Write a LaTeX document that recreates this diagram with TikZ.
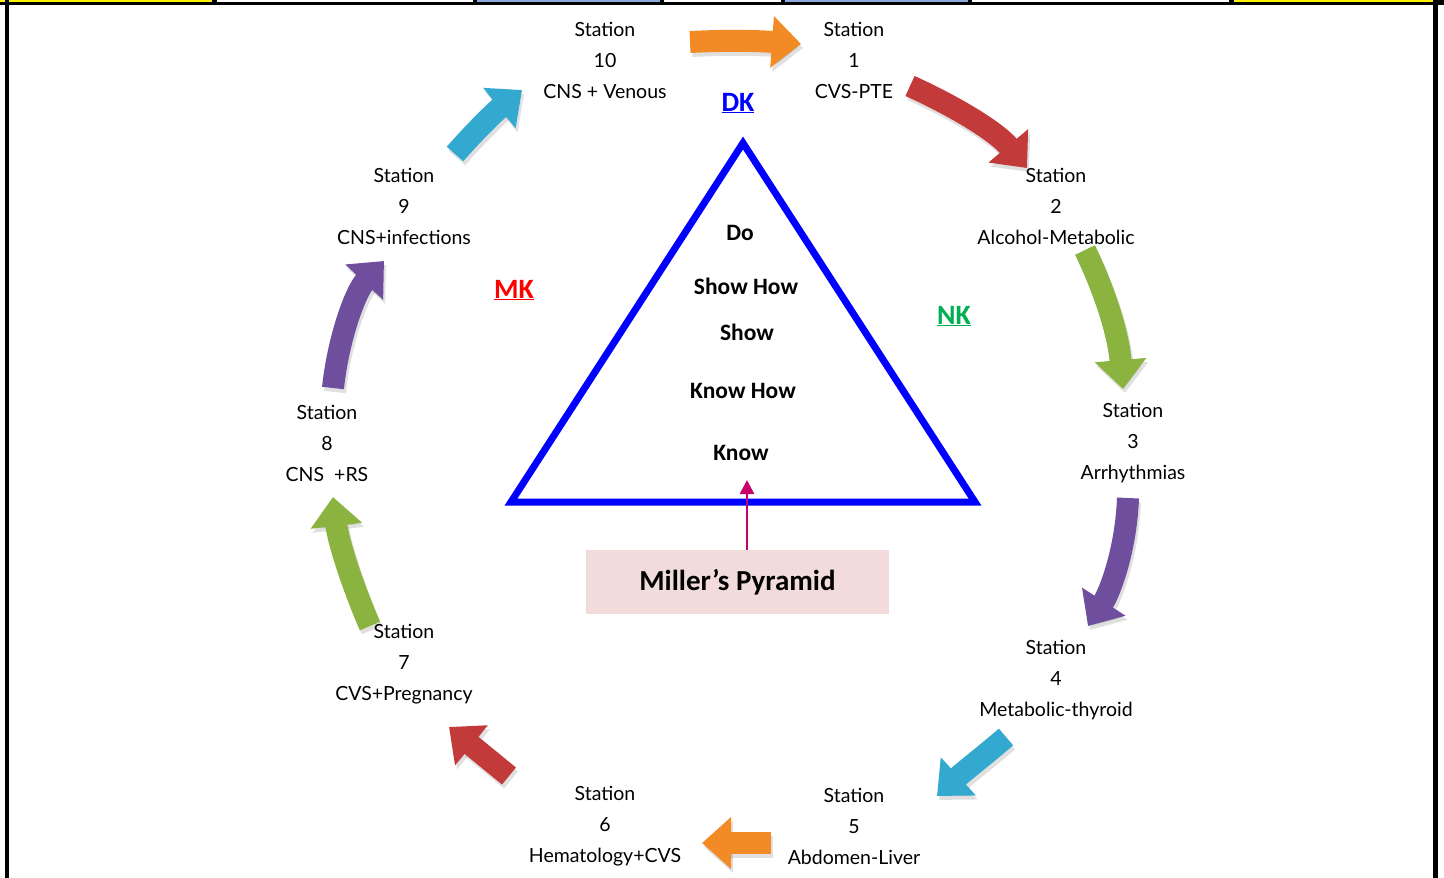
\documentclass[tikz,border=0pt]{standalone}
\usepackage{fontspec}
\setmainfont{Lato}
\newfontfamily\calibri{Carlito}
\usetikzlibrary{arrows.meta}
\definecolor{stripblue}{HTML}{8EA9DB}
\definecolor{aorange}{HTML}{F28A26}
\definecolor{ared}{HTML}{C23A3A}
\definecolor{agreen}{HTML}{8AB340}
\definecolor{apurple}{HTML}{6F4E9E}
\definecolor{acyan}{HTML}{33A9CF}
\definecolor{pinkbox}{HTML}{F2DCDB}
\definecolor{nkgreen}{HTML}{00B050}
\definecolor{pmag}{HTML}{C8006A}
\begin{document}
\begin{tikzpicture}[x=1pt,y=-1pt,
  station/.style={font=\fontsize{19.5}{31}\selectfont, align=center, inner sep=0pt},
  lvl/.style={font=\calibri\bfseries\fontsize{23.5}{26}\selectfont, inner sep=0pt},
  kl/.style={font=\calibri\bfseries\fontsize{28}{30}\selectfont, inner sep=0pt},
  arr/.style={line width=22pt, -{Triangle[length=29pt,width=50pt]}},
  shad/.style={arr, draw=black, draw opacity=0.12, fill opacity=0.12, transform canvas={xshift=2pt,yshift=-4pt}}
]
\useasboundingbox (0,0) rectangle (1444,878);
% frame
\fill[black] (0,0) rectangle (1444,5);
\fill[yellow] (0,0) rectangle (212,2);
\fill[white] (217,0) rectangle (473,2);
\fill[stripblue] (477,0) rectangle (660,2);
\fill[white] (664,0) rectangle (781,2);
\fill[stripblue] (785,0) rectangle (968,2);
\fill[white] (972,0) rectangle (1229,2);
\fill[yellow] (1234,0) rectangle (1438,2);
\fill[black] (5,0) rectangle (9,878);
\fill[black] (1433,0) rectangle (1438,878);

% stations
\node[station] (s10) at (605,60) {Station\\10\\CNS + Venous};
\node[station] (s1) at (854,60) {Station\\1\\CVS-PTE};
\node[station] (s2) at (1056,206) {Station\\2\\Alcohol-Metabolic};
\node[station] (s3) at (1133,443) {Station\\3\\Arrhythmias};
\node[station] (s4) at (1056,680) {Station\\4\\Metabolic-thyroid};
\node[station] (s5) at (854,826) {Station\\5\\Abdomen-Liver};
\node[station] (s6) at (605,826) {Station\\6\\Hematology+CVS};
\node[station] (s7) at (404,664) {Station\\7\\CVS+Pregnancy};
\node[station] (s8) at (327,443) {Station\\8\\CNS~ +RS};
\node[station] (s9) at (404,206) {Station\\9\\CNS+infections};

% arrow end points
\coordinate (a1s) at (690,42);  \coordinate (a1e) at (801,44);
\coordinate (a2s) at (910,86);  \coordinate (a2e) at (1027,168);
\coordinate (a3s) at (1085,250); \coordinate (a3e) at (1123,389);
\coordinate (a4s) at (1128,498); \coordinate (a4e) at (1088,626);
\coordinate (a5s) at (1006,737); \coordinate (a5e) at (937,796);
\coordinate (a6s) at (771,843); \coordinate (a6e) at (702,843);
\coordinate (a7s) at (509,776); \coordinate (a7e) at (449,727);
\coordinate (a8s) at (370,626); \coordinate (a8e) at (333,497);
\coordinate (a9s) at (333,388); \coordinate (a9e) at (384,261);
\coordinate (a10s) at (455,154); \coordinate (a10e) at (522,90);

% shadows
\draw[shad] (a1s) .. controls (730,40) and (760,41) .. (a1e);
\draw[shad] (a2s) .. controls (950,104) and (995,130) .. (a2e);
\draw[shad] (a3s) .. controls (1102,285) and (1118,330) .. (a3e);
\draw[shad] (a4s) .. controls (1126,550) and (1110,592) .. (a4e);
\draw[shad] (a5s) .. controls (985,755) and (962,773) .. (a5e);
\draw[shad] (a6s) -- (a6e);
\draw[shad] (a7s) -- (a7e);
\draw[shad] (a8s) .. controls (352,585) and (338,540) .. (a8e);
\draw[shad] (a9s) .. controls (338,340) and (355,292) .. (a9e);
\draw[shad] (a10s) .. controls (475,131) and (497,110) .. (a10e);

% arrows
\draw[arr, aorange] (a1s) .. controls (730,40) and (760,41) .. (a1e);
\draw[arr, ared] (a2s) .. controls (950,104) and (995,130) .. (a2e);
\draw[arr, agreen] (a3s) .. controls (1102,285) and (1118,330) .. (a3e);
\draw[arr, apurple] (a4s) .. controls (1126,550) and (1110,592) .. (a4e);
\draw[arr, acyan] (a5s) .. controls (985,755) and (962,773) .. (a5e);
\draw[arr, aorange] (a6s) -- (a6e);
\draw[arr, ared] (a7s) -- (a7e);
\draw[arr, agreen] (a8s) .. controls (352,585) and (338,540) .. (a8e);
\draw[arr, apurple] (a9s) .. controls (338,340) and (355,292) .. (a9e);
\draw[arr, acyan] (a10s) .. controls (475,131) and (497,110) .. (a10e);

% pyramid
\coordinate (tA) at (743,143);
\coordinate (tR) at (975,502);
\coordinate (tL) at (511,502);
\draw[blue, line width=7pt, line join=miter] (tA) -- (tR) -- (tL) -- cycle;
\node[lvl] (do) at (740,233) {Do};
\node[lvl] (sh) at (746,286) {Show How};
\node[lvl] (s) at (747,332) {Show};
\node[lvl] (kh) at (743,391) {Know How};
\node[lvl] (k) at (741,453) {Know};

% labels
\node[kl, text=blue] (dk) at (738,103) {\underline{DK}};
\node[kl, text=red] (mk) at (514,290) {\underline{MK}};
\node[kl, text=nkgreen] (nk) at (954,316) {\underline{NK}};

% Miller's pyramid
\node[fill=pinkbox, minimum width=303pt, minimum height=64pt, inner sep=0pt,
  font=\calibri\bfseries\fontsize{29}{32}\selectfont] (mp) at (737.5,582) {Miller’s Pyramid};
\coordinate (tip) at (747,480);
\draw[pmag, line width=2.5pt, -{Triangle[length=14pt,width=14pt]}] (mp.north -| tip) -- (tip);
\end{tikzpicture}
\end{document}
